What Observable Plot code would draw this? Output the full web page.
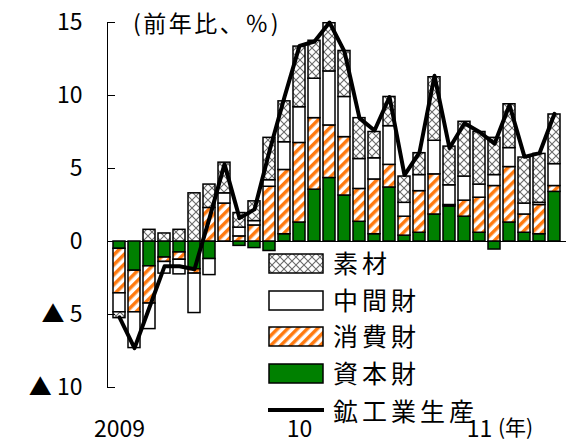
<!DOCTYPE html>
<html><head><meta charset="utf-8">
<script src="https://cdn.jsdelivr.net/npm/d3@7"></script>
<script src="https://cdn.jsdelivr.net/npm/@observablehq/plot@0.6"></script>
<style>
body{margin:0;background:#fff;font-family:"Noto Sans CJK JP",sans-serif;}
#wrap{position:relative;width:570px;height:443px;overflow:hidden;}
.lab{position:absolute;color:#000;white-space:nowrap;line-height:1;}
.leg{font-size:25px;letter-spacing:4px;left:333px;}
.sw{position:absolute;left:268px;}
</style></head><body>
<svg width="0" height="0" style="position:absolute"><defs>
<pattern id="cross" patternUnits="userSpaceOnUse" width="8" height="8"><rect width="8" height="8" fill="#fff"/><path d="M0,0L8,8M8,0L0,8" stroke="#6a6a6a" stroke-width="1.1"/></pattern>
<pattern id="stripe" patternUnits="userSpaceOnUse" width="7" height="7" patternTransform="rotate(45)"><rect width="7" height="7" fill="#fff"/><rect width="3.5" height="7" fill="#ff7a10"/></pattern>
</defs></svg>
<div id="wrap"></div>
<script>
const months = ["2009-01","2009-02","2009-03","2009-04","2009-05","2009-06","2009-07","2009-08","2009-09","2009-10","2009-11","2009-12",
"2010-01","2010-02","2010-03","2010-04","2010-05","2010-06","2010-07","2010-08","2010-09","2010-10","2010-11","2010-12",
"2011-01","2011-02","2011-03","2011-04","2011-05","2011-06"];
// 資本財
const shihon = [-0.5,-2.0,-1.7,-1.1,-0.75,-1.9,-1.2,0.0,-0.3,-0.45,-0.65,0.5,1.3,3.55,4.35,3.15,1.35,0.5,3.7,0.4,0.6,1.85,2.4,1.7,0.6,-0.55,1.3,0.6,0.5,3.4];
// 消費財
const shohi = [-3.05,-2.85,-2.55,-0.3,-0.5,-0.3,2.3,2.6,0.35,1.1,3.75,4.4,5.45,4.9,3.6,4.0,2.25,3.75,1.55,1.3,2.85,2.75,0.1,1.1,2.4,3.8,3.8,1.25,2.0,0.4];
// 中間財
const chukan = [-1.3,-2.45,-1.75,-0.8,-1.0,-2.7,-1.1,0.7,0.6,0.3,0.45,1.9,2.45,2.7,3.7,2.75,2.05,1.45,2.65,0.95,1.1,2.3,1.35,1.65,0.9,0.75,1.3,0.75,0.15,1.5];
// 素材
const sozai = [-0.4,0.0,0.8,0.55,0.8,3.3,1.6,2.1,1.0,1.35,2.9,2.8,4.15,2.6,3.3,3.15,2.8,1.8,2.0,1.8,1.5,4.35,2.65,3.75,3.6,2.55,3.0,3.15,3.35,3.4];
// 鉱工業生産
const total = [-5.2,-7.3,-4.5,-1.7,-1.7,-1.9,1.6,5.3,1.6,2.2,6.2,9.9,13.4,13.7,15.0,13.0,8.45,7.6,9.9,4.55,6.1,11.35,6.4,8.1,7.5,6.7,9.35,5.8,6.05,8.75];

const seriesNames = ["資本財","消費財","中間財","素材"];
const seriesFills = ["#008000","url(#stripe)","#ffffff","url(#cross)"];
const legendOrder = ["素材","中間財","消費財","資本財"];
const lineName = "鉱工業生産";
const unitLabel = "(前年比、％)";
const yearSuffix = "(年)";
const xTickKeys = ["2009-01","2010-01","2011-01"];
const xTickLabels = ["2009","10","11"];
const yTicks = [15,10,5,0,-5,-10];
const yTickLabels = ["15","10","5","0","▲ 5","▲ 10"];

const bars = [];
[shihon, shohi, chukan, sozai].forEach((arr, s) =>
  arr.forEach((v, i) => bars.push({month: months[i], series: seriesNames[s], value: v})));
const lineData = total.map((v, i) => ({month: months[i], value: v}));

const W = 570, H = 443, mL = 107, mR = 4, mT = 22, mB = 56;
const chart = Plot.plot({
  width: W, height: H,
  marginLeft: mL, marginRight: mR, marginTop: mT, marginBottom: mB,
  style: {fontFamily: '"Noto Sans CJK JP", sans-serif', fontSize: "23px", color: "#000", background: "transparent", overflow: "visible"},
  x: {domain: months, paddingInner: 0.2, paddingOuter: 0.1, axis: null, label: null},
  y: {domain: [-10, 15], axis: null, label: null},
  color: {domain: seriesNames, range: seriesFills},
  marks: [
    Plot.ruleY([0], {stroke: "#000", strokeWidth: 1}),
    Plot.barY(bars, {x: "month", y: "value", fill: "series", stroke: "#000", strokeWidth: 1.5}),
    Plot.line(lineData, {x: "month", y: "value", stroke: "#000", strokeWidth: 4}),
    Plot.frame({anchor: "left", stroke: "#000"}),
    Plot.ruleY(yTicks.filter(d => d !== 0), {stroke: "#000", insetRight: W - mL - mR - 8}),
    Plot.axisY({ticks: yTicks, tickSize: 0, tickPadding: 25, label: null, tickFormat: d => yTickLabels[yTicks.indexOf(d)]}),
    Plot.axisX({ticks: xTickKeys, tickSize: 0, tickPadding: 33, label: null, tickFormat: d => xTickLabels[xTickKeys.indexOf(d)]})
  ]
});
const wrap = document.getElementById("wrap");
wrap.appendChild(chart);

function addLabel(text, cls, left, top, size, spacing) {
  const d = document.createElement("div");
  d.className = "lab " + cls;
  d.textContent = text;
  d.style.left = left + "px"; d.style.top = top + "px";
  if (size) d.style.fontSize = size + "px";
  if (spacing) d.style.letterSpacing = spacing + "px";
  wrap.appendChild(d);
}
addLabel(unitLabel, "", 133, 11, 23, 2.5);
addLabel(yearSuffix, "", 498, 416, 21);

const rowCenters = [263, 300, 336, 373];
legendOrder.forEach((name, k) => {
  const fill = seriesFills[seriesNames.indexOf(name)];
  const sw = document.createElementNS("http://www.w3.org/2000/svg", "svg");
  sw.setAttribute("width", 56); sw.setAttribute("height", 21);
  sw.setAttribute("class", "sw");
  sw.style.top = (rowCenters[k] - 10.5) + "px";
  sw.innerHTML = `<rect x="1" y="1" width="54" height="19" fill="${fill}" stroke="#000" stroke-width="1.5"/>`;
  wrap.appendChild(sw);
  addLabel(name, "leg", 333, rowCenters[k] - 13);
});
const ls = document.createElementNS("http://www.w3.org/2000/svg", "svg");
ls.setAttribute("width", 58); ls.setAttribute("height", 8);
ls.setAttribute("class", "sw");
ls.style.top = "406px";
ls.innerHTML = `<line x1="0" x2="56" y1="4" y2="4" stroke="#000" stroke-width="4"/>`;
wrap.appendChild(ls);
addLabel(lineName, "leg", 333, 398);
</script>
</body></html>
